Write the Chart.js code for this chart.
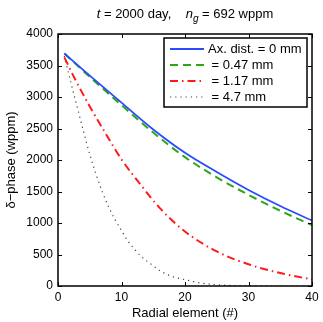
<!DOCTYPE html>
<html><head><meta charset="utf-8">
<script src="https://cdn.jsdelivr.net/npm/chart.js@4"></script>
<style>html,body{margin:0;padding:0;background:#fff;}canvas{display:block;}</style>
</head><body>
<canvas id="c" width="323" height="322"></canvas>
<script>
// ---- data ----
const xTicks = [0, 10, 20, 30, 40];
const yTicks = [0, 500, 1000, 1500, 2000, 2500, 3000, 3500, 4000];

const seriesLabels = ['Ax. dist. = 0 mm', ' = 0.47 mm', ' = 1.17 mm', ' = 4.7 mm'];

const elemA = [1, 5, 10, 15, 20, 25, 30, 35, 40];
const dist0 = [3690, 3340, 2910, 2485, 2115, 1810, 1525, 1270, 1040];
const dist047 = [3690, 3320, 2870, 2435, 2045, 1725, 1447, 1195, 965];

const elemB = [1, 2.5, 5, 7.5, 10, 13, 16, 20, 25, 30, 35, 40];
const dist117 = [3630, 3320, 2850, 2420, 2010, 1610, 1240, 865, 548, 345, 205, 105];

const elemC = [1, 2, 3, 4, 5, 6, 7, 8, 9, 10, 11, 12, 13, 14, 15, 16, 18, 20, 22, 25, 30, 35, 40];
const dist47 = [3650, 3240, 2850, 2460, 2090, 1770, 1490, 1250, 1050, 880, 715, 590, 480, 395, 320, 245, 150, 100, 55, 20, 3, 0, 0];

const colors = ['#2a4bff', '#2ca814', '#ff1a1a', '#444444'];
const dashes = [[], [8, 5], [8, 4, 1.5, 4], [1.2, 4]];
const widths = [1.8, 2, 2, 1.2];

const pts = (xs, ys) => xs.map((v, i) => ({x: v, y: ys[i]}));
const allData = [pts(elemA, dist0), pts(elemA, dist047), pts(elemB, dist117), pts(elemC, dist47)];

const FONT = '"Liberation Sans", Arial, Helvetica, sans-serif';

const framePlugin = {
  id: 'frame',
  afterDraw(chart) {
    const {ctx, chartArea: {left, right, top, bottom}, scales: {x, y}} = chart;
    ctx.save();
    // ticks inside
    ctx.strokeStyle = '#000';
    ctx.lineWidth = 1;
    const L = 4;
    ctx.beginPath();
    xTicks.forEach(v => {
      const px = Math.round(x.getPixelForValue(v)) + 0.5;
      ctx.moveTo(px, bottom); ctx.lineTo(px, bottom - L);
      ctx.moveTo(px, top); ctx.lineTo(px, top + L);
    });
    yTicks.forEach(v => {
      const py = Math.round(y.getPixelForValue(v)) + 0.5;
      ctx.moveTo(left, py); ctx.lineTo(left + L, py);
      ctx.moveTo(right, py); ctx.lineTo(right - L, py);
    });
    ctx.stroke();
    // box
    ctx.lineWidth = 1.5;
    ctx.strokeRect(left, top, right - left, bottom - top);

    // legend
    const bw = 143, bh = 69;
    const bx = right - 5 - bw, by = top + 4;
    ctx.fillStyle = '#fff';
    ctx.fillRect(bx, by, bw, bh);
    ctx.lineWidth = 1.5;
    ctx.strokeStyle = '#000';
    ctx.strokeRect(bx, by, bw, bh);
    ctx.font = '13px ' + FONT;
    ctx.textBaseline = 'middle';
    ctx.textAlign = 'left';
    chart.data.datasets.forEach((ds, i) => {
      const ry = by + 11 + i * 16;
      ctx.beginPath();
      ctx.strokeStyle = ds.borderColor;
      ctx.lineWidth = ds.borderWidth;
      ctx.setLineDash(ds.borderDash || []);
      ctx.moveTo(bx + 6, ry); ctx.lineTo(bx + 40, ry);
      ctx.stroke();
      ctx.setLineDash([]);
      ctx.fillStyle = '#000';
      ctx.fillText(ds.label, bx + 44, ry + 0.5);
    });

    // title
    const segs = [
      {t: 't', f: 'italic 13px ' + FONT, dy: 0},
      {t: ' = 2000 day,    ', f: '13px ' + FONT, dy: 0},
      {t: 'n', f: 'italic 13px ' + FONT, dy: 0},
      {t: 'g', f: 'italic 10px ' + FONT, dy: 4},
      {t: ' = 692 wppm', f: '13px ' + FONT, dy: 0},
    ];
    let tw = 0;
    segs.forEach(s => { ctx.font = s.f; s.w = ctx.measureText(s.t).width; tw += s.w; });
    let tx = (left + right) / 2 - tw / 2;
    ctx.textBaseline = 'alphabetic';
    ctx.fillStyle = '#000';
    segs.forEach(s => { ctx.font = s.f; ctx.fillText(s.t, tx, 18 + s.dy); tx += s.w; });
    ctx.restore();
  }
};

new Chart(document.getElementById('c'), {
  type: 'line',
  data: {
    datasets: allData.map((d, i) => ({
      label: seriesLabels[i],
      data: d,
      borderColor: colors[i],
      backgroundColor: colors[i],
      borderDash: dashes[i],
      borderWidth: widths[i],
      pointRadius: 0,
      fill: false,
      cubicInterpolationMode: 'monotone',
      borderCapStyle: 'butt'
    }))
  },
  options: {
    responsive: false,
    devicePixelRatio: 1,
    animation: false,
    layout: {padding: {top: 34, right: 11, left: 0, bottom: 0}},
    plugins: {legend: {display: false}, title: {display: false}, tooltip: {enabled: false}},
    scales: {
      x: {
        type: 'linear', min: 0, max: 40,
        afterBuildTicks: s => { s.ticks = xTicks.map(v => ({value: v})); },
        afterFit: s => { s.height = 36; },
        grid: {display: false, drawTicks: false},
        border: {display: false},
        ticks: {color: '#000', font: {size: 12, family: FONT}, padding: 4, maxRotation: 0, callback: v => String(v)},
        title: {display: true, text: 'Radial element (#)', color: '#000', font: {size: 13, family: FONT}, padding: {top: 0, bottom: 1}}
      },
      y: {
        type: 'linear', min: 0, max: 4000,
        afterBuildTicks: s => { s.ticks = yTicks.map(v => ({value: v})); },
        afterFit: s => { s.width = 58; },
        grid: {display: false, drawTicks: false},
        border: {display: false},
        ticks: {color: '#000', font: {size: 12, family: FONT}, padding: 5, callback: v => String(v)},
        title: {display: true, text: 'δ−phase (wppm)', color: '#000', font: {size: 13, family: FONT}, padding: {top: 4, bottom: 0}}
      }
    }
  },
  plugins: [framePlugin]
});
</script>
</body></html>
